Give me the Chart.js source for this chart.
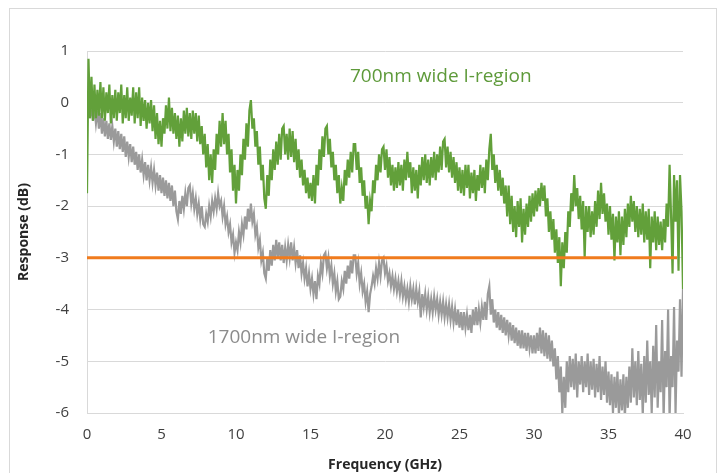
<!DOCTYPE html>
<html>
<head>
<meta charset="utf-8">
<script src="https://cdn.jsdelivr.net/npm/chart.js@4/dist/chart.umd.min.js"></script>
<style>
html,body{margin:0;padding:0;background:#fff;}
#wrap{width:725px;height:473px;position:relative;}
</style>
</head>
<body>
<div id="wrap"><canvas id="c" width="725" height="473"></canvas></div>
<script>
// Frequency grid: samples every 0.1 GHz from 0 to 40 GHz
const freqStep = 0.1;
const xTickValues = [0, 5, 10, 15, 20, 25, 30, 35, 40];
const yTickValues = [1, 0, -1, -2, -3, -4, -5, -6];
const threshold = -3;
const thresholdEnd = 39.6;

// 700nm wide I-region response (dB)
const green700 = [
-1.75,0.85,-0.3,0.5,-0.35,0.35,-0.3,0.25,-0.25,0.4,
-0.3,0.3,-0.35,0.2,-0.2,0.35,-0.4,0.15,-0.3,0.25,
-0.35,0.2,-0.2,0.35,-0.4,0.15,-0.3,0.3,-0.35,0.1,
-0.25,0.3,-0.4,0.2,-0.3,0.3,-0.45,0.1,-0.35,0.05,
-0.5,0.0,-0.4,0.05,-0.55,-0.05,-0.7,-0.2,-0.8,-0.35,
-0.85,-0.3,-0.6,-0.05,-0.5,0.1,-0.55,-0.1,-0.6,-0.2,
-0.7,-0.25,-0.85,-0.3,-0.75,-0.15,-0.6,-0.1,-0.65,-0.2,
-0.7,-0.15,-0.6,-0.2,-0.75,-0.25,-0.8,-0.45,-1.0,-0.6,
-1.25,-0.8,-1.5,-1.0,-1.55,-0.9,-1.3,-0.6,-1.0,-0.35,
-0.85,-0.2,-0.8,-0.35,-1.0,-0.6,-1.35,-0.9,-1.7,-1.2,
-1.95,-1.3,-1.7,-1.0,-1.4,-0.7,-1.1,-0.4,-0.85,-0.15,
0.05,-0.5,-0.3,-0.85,-0.55,-1.2,-0.85,-1.5,-1.2,-1.85,
-2.05,-1.4,-1.8,-1.1,-1.5,-0.9,-1.3,-0.75,-1.2,-0.6,
-1.1,-0.5,-0.45,-1.0,-0.6,-1.1,-0.5,-1.05,-0.55,-1.15,
-0.7,-1.3,-0.9,-1.45,-1.1,-1.6,-1.3,-1.75,-1.45,-1.85,
-1.55,-1.9,-1.4,-1.95,-1.2,-1.6,-0.9,-1.3,-0.65,-1.05,
-0.5,-0.45,-1.0,-0.7,-1.25,-0.95,-1.5,-1.2,-1.75,-1.4,
-1.95,-1.65,-1.9,-1.3,-1.6,-1.1,-1.45,-0.95,-1.35,-0.8,
-0.8,-1.3,-0.95,-1.55,-1.25,-1.8,-1.5,-2.05,-1.8,-2.35,
-1.9,-2.1,-1.5,-1.75,-1.2,-1.5,-1.0,-1.35,-0.9,-0.85,
-1.3,-0.9,-1.45,-1.05,-1.6,-1.2,-1.7,-1.25,-1.65,-1.15,
-1.6,-1.2,-1.7,-1.1,-1.5,-0.95,-1.45,-1.15,-1.75,-1.25,
-1.7,-1.3,-1.85,-1.2,-1.6,-1.05,-1.5,-1.0,-1.55,-1.1,
-1.6,-1.05,-1.45,-0.95,-1.5,-1.0,-1.35,-0.85,-1.3,-0.75,
-0.7,-1.25,-0.85,-1.35,-0.95,-1.45,-1.05,-1.55,-1.15,-1.7,
-1.25,-1.75,-1.3,-1.8,-1.2,-1.65,-1.2,-1.85,-1.35,-1.75,
-1.3,-1.9,-1.4,-1.7,-1.2,-1.65,-1.25,-1.75,-1.1,-1.5,
-0.9,-0.6,-1.3,-1.0,-1.55,-1.2,-1.7,-1.3,-1.8,-1.45,
-1.95,-1.6,-2.2,-1.6,-2.35,-1.8,-2.5,-2.0,-2.6,-1.9,
-2.4,-1.85,-2.7,-2.05,-2.55,-1.95,-2.4,-1.8,-2.3,-1.75,
-2.2,-1.7,-2.1,-1.65,-2.0,-1.55,-1.9,-1.6,-2.2,-1.85,
-2.5,-2.1,-2.65,-2.25,-2.9,-2.45,-3.1,-2.6,-3.55,-2.7,
-3.2,-2.5,-2.9,-2.1,-2.4,-1.75,-2.1,-1.4,-2.0,-1.65,
-2.25,-1.8,-2.45,-1.9,-3.0,-2.0,-2.5,-2.0,-2.6,-2.1,
-2.55,-1.9,-2.4,-1.7,-2.25,-1.55,-2.15,-1.75,-2.3,-1.95,
-2.55,-2.0,-2.65,-2.15,-3.05,-2.2,-2.7,-2.1,-2.95,-2.2,
-2.75,-2.05,-2.6,-1.95,-2.4,-1.8,-2.3,-1.9,-2.5,-2.0,
-2.6,-2.05,-2.55,-1.95,-2.7,-2.1,-2.65,-2.05,-3.2,-2.2,
-2.7,-2.1,-2.85,-2.2,-2.75,-2.3,-2.85,-2.25,-2.7,-1.95,
-2.4,-1.2,-2.2,-3.3,-1.4,-2.3,-1.5,-3.25,-1.4,-2.1,
-3.6
];

// 1700nm wide I-region response (dB)
const gray1700 = [
-0.05,0.15,-0.3,0.0,-0.35,-0.1,-0.4,-0.15,-0.5,-0.2,
-0.6,-0.3,-0.65,-0.35,-0.7,-0.4,-0.72,-0.45,-0.75,-0.5,
-0.85,-0.55,-0.9,-0.6,-0.95,-0.65,-1.05,-0.75,-1.05,-0.8,
-1.15,-0.85,-1.2,-0.95,-1.3,-1.0,-1.35,-1.1,-1.4,-1.15,
-1.5,-1.2,-1.5,-1.25,-1.55,-1.3,-1.6,-1.35,-1.7,-1.4,
-1.75,-1.45,-1.8,-1.5,-1.85,-1.55,-1.9,-1.6,-2.0,-1.7,
-2.1,-2.25,-1.9,-2.15,-1.8,-2.05,-1.75,-2.0,-1.65,-1.6,
-1.95,-1.75,-2.05,-1.85,-2.15,-1.95,-2.25,-2.0,-2.35,-2.4,
-2.15,-2.3,-2.0,-2.2,-1.9,-2.1,-1.85,-2.05,-1.75,-2.0,
-1.9,-2.2,-2.0,-2.35,-2.2,-2.5,-2.35,-2.7,-2.55,-2.9,
-2.7,-2.85,-2.5,-2.7,-2.35,-2.55,-2.2,-2.45,-2.05,-2.3,
-1.95,-2.3,-2.15,-2.55,-2.4,-2.8,-2.65,-3.05,-2.9,-3.3,
-3.4,-3.0,-3.25,-2.85,-3.15,-2.75,-3.05,-2.65,-3.0,-2.7,
-3.05,-2.75,-3.1,-2.8,-3.05,-2.75,-3.0,-2.7,-3.05,-2.8,
-3.1,-2.85,-3.2,-2.95,-3.3,-3.1,-3.4,-3.2,-3.55,-3.3,
-3.6,-3.4,-3.7,-3.45,-3.8,-3.35,-3.5,-3.1,-3.3,-2.95,
-2.9,-3.2,-3.0,-3.35,-3.15,-3.5,-3.3,-3.65,-3.45,-3.8,
-3.75,-3.45,-3.6,-3.25,-3.5,-3.15,-3.4,-3.05,-3.3,-2.95,
-2.95,-3.3,-3.1,-3.5,-3.3,-3.65,-3.5,-3.85,-3.65,-4.05,
-3.7,-3.55,-3.35,-3.5,-3.2,-3.4,-3.1,-3.35,-3.05,-3.0,
-3.3,-3.15,-3.45,-3.3,-3.55,-3.35,-3.6,-3.4,-3.65,-3.45,
-3.7,-3.45,-3.75,-3.55,-3.8,-3.6,-3.85,-3.55,-3.8,-3.6,
-3.9,-3.6,-3.85,-3.65,-4.15,-3.7,-3.95,-3.7,-4.0,-3.75,
-4.05,-3.8,-4.05,-3.75,-4.0,-3.8,-4.1,-3.85,-4.1,-3.85,
-4.15,-3.9,-4.15,-3.9,-4.2,-3.95,-4.25,-4.0,-4.3,-4.0,
-4.35,-4.05,-4.4,-4.05,-4.35,-4.1,-4.4,-4.1,-4.45,-4.0,
-4.3,-3.95,-4.3,-4.0,-4.25,-3.95,-4.2,-3.85,-4.2,-3.7,
-3.55,-4.1,-3.8,-4.25,-4.0,-4.35,-4.05,-4.4,-4.1,-4.45,
-4.15,-4.5,-4.2,-4.5,-4.25,-4.6,-4.3,-4.65,-4.35,-4.7,
-4.4,-4.75,-4.4,-4.75,-4.45,-4.8,-4.45,-4.75,-4.5,-4.85,
-4.5,-4.85,-4.45,-4.8,-4.35,-4.85,-4.4,-4.9,-4.45,-4.95,
-4.5,-5.0,-4.6,-5.1,-4.75,-5.35,-4.9,-5.6,-5.1,-6.0,
-5.3,-5.9,-5.0,-5.6,-4.9,-5.5,-4.95,-5.55,-4.85,-5.7,
-5.0,-5.45,-4.9,-5.6,-5.0,-5.5,-4.85,-5.65,-5.0,-5.55,
-4.95,-5.7,-5.05,-5.6,-4.9,-5.75,-5.1,-5.65,-5.0,-5.8,
-5.2,-5.85,-5.25,-6.0,-5.3,-5.9,-5.2,-6.05,-5.35,-5.95,
-5.25,-6.1,-5.3,-5.9,-5.1,-5.8,-4.75,-5.7,-5.0,-5.85,
-4.8,-5.75,-5.05,-6.05,-4.9,-5.8,-4.6,-5.65,-5.0,-6.0,
-4.7,-5.7,-4.3,-5.9,-5.0,-5.6,-4.2,-6.1,-4.8,-5.5,
-4.0,-6.1,-4.9,-5.5,-3.95,-6.0,-4.6,-5.2,-3.8,-5.3,
-3.6
];

const toPoints = arr => arr.map((v, i) => ({ x: +(i * freqStep).toFixed(1), y: v }));

const labelPlugin = {
  id: 'labels',
  beforeDraw(chart) {
    const ctx = chart.ctx;
    ctx.save();
    ctx.fillStyle = '#ffffff';
    ctx.fillRect(0, 0, chart.width, chart.height);
    ctx.strokeStyle = '#d9d9d9';
    ctx.lineWidth = 1;
    ctx.strokeRect(9.5, 8.5, 707, 480);
    ctx.restore();
  },
  afterDraw(chart) {
    const ctx = chart.ctx;
    const xs = chart.scales.x, ys = chart.scales.y;
    ctx.save();
    ctx.font = '19px "Open Sans"';
    ctx.textBaseline = 'middle';
    ctx.textAlign = 'left';
    ctx.fillStyle = '#5E9A3A';
    ctx.fillText('700nm wide I-region', xs.getPixelForValue(17.65), ys.getPixelForValue(0.5));
    ctx.fillStyle = '#8C8C8C';
    ctx.fillText('1700nm wide I-region', xs.getPixelForValue(8.1), ys.getPixelForValue(-4.55));
    ctx.restore();
  }
};

new Chart(document.getElementById('c'), {
  type: 'line',
  data: {
    datasets: [
      { label: 'threshold', data: [{x: 0, y: threshold}, {x: thresholdEnd, y: threshold}],
        borderColor: '#F07B1D', borderWidth: 3, pointRadius: 0, order: 0 },
      { label: '700nm wide I-region', data: toPoints(green700),
        borderColor: '#62A03A', borderWidth: 2.2, pointRadius: 0, order: 1 },
      { label: '1700nm wide I-region', data: toPoints(gray1700),
        borderColor: '#9A9A9A', borderWidth: 2.2, pointRadius: 0, order: 2 }
    ]
  },
  options: {
    responsive: false,
    animation: false,
    devicePixelRatio: 1,
    layout: { padding: { left: 10, right: 42, top: 51, bottom: 0 } },
    plugins: { legend: { display: false }, tooltip: { enabled: false } },
    elements: { line: { tension: 0, borderJoinStyle: 'miter' } },
    scales: {
      x: {
        type: 'linear', min: 0, max: 40,
        afterBuildTicks: s => { s.ticks = xTickValues.map(v => ({ value: v })); },
        ticks: { font: { family: 'Open Sans', size: 15 }, color: '#404040', padding: 13, maxRotation: 0 },
        grid: { display: false, drawTicks: false },
        border: { display: true, color: '#d9d9d9' },
        title: { display: true, text: 'Frequency (GHz)', font: { family: 'Open Sans', size: 14, weight: 'bold' }, color: '#262626', padding: { top: 0, bottom: 0 } },
        afterFit: s => { s.height = 60; }
      },
      y: {
        min: -6, max: 1,
        afterBuildTicks: s => { s.ticks = yTickValues.map(v => ({ value: v })); },
        ticks: { font: { family: 'Open Sans', size: 15 }, color: '#404040', padding: 18 },
        grid: { color: '#d9d9d9', drawTicks: false },
        border: { display: true, color: '#d9d9d9' },
        title: { display: true, text: 'Response (dB)', font: { family: 'Open Sans', size: 14, weight: 'bold' }, color: '#262626', padding: { top: 6, bottom: 0 } },
        afterFit: s => { s.width = 77; }
      }
    }
  },
  plugins: [labelPlugin]
});
</script>
</body>
</html>
